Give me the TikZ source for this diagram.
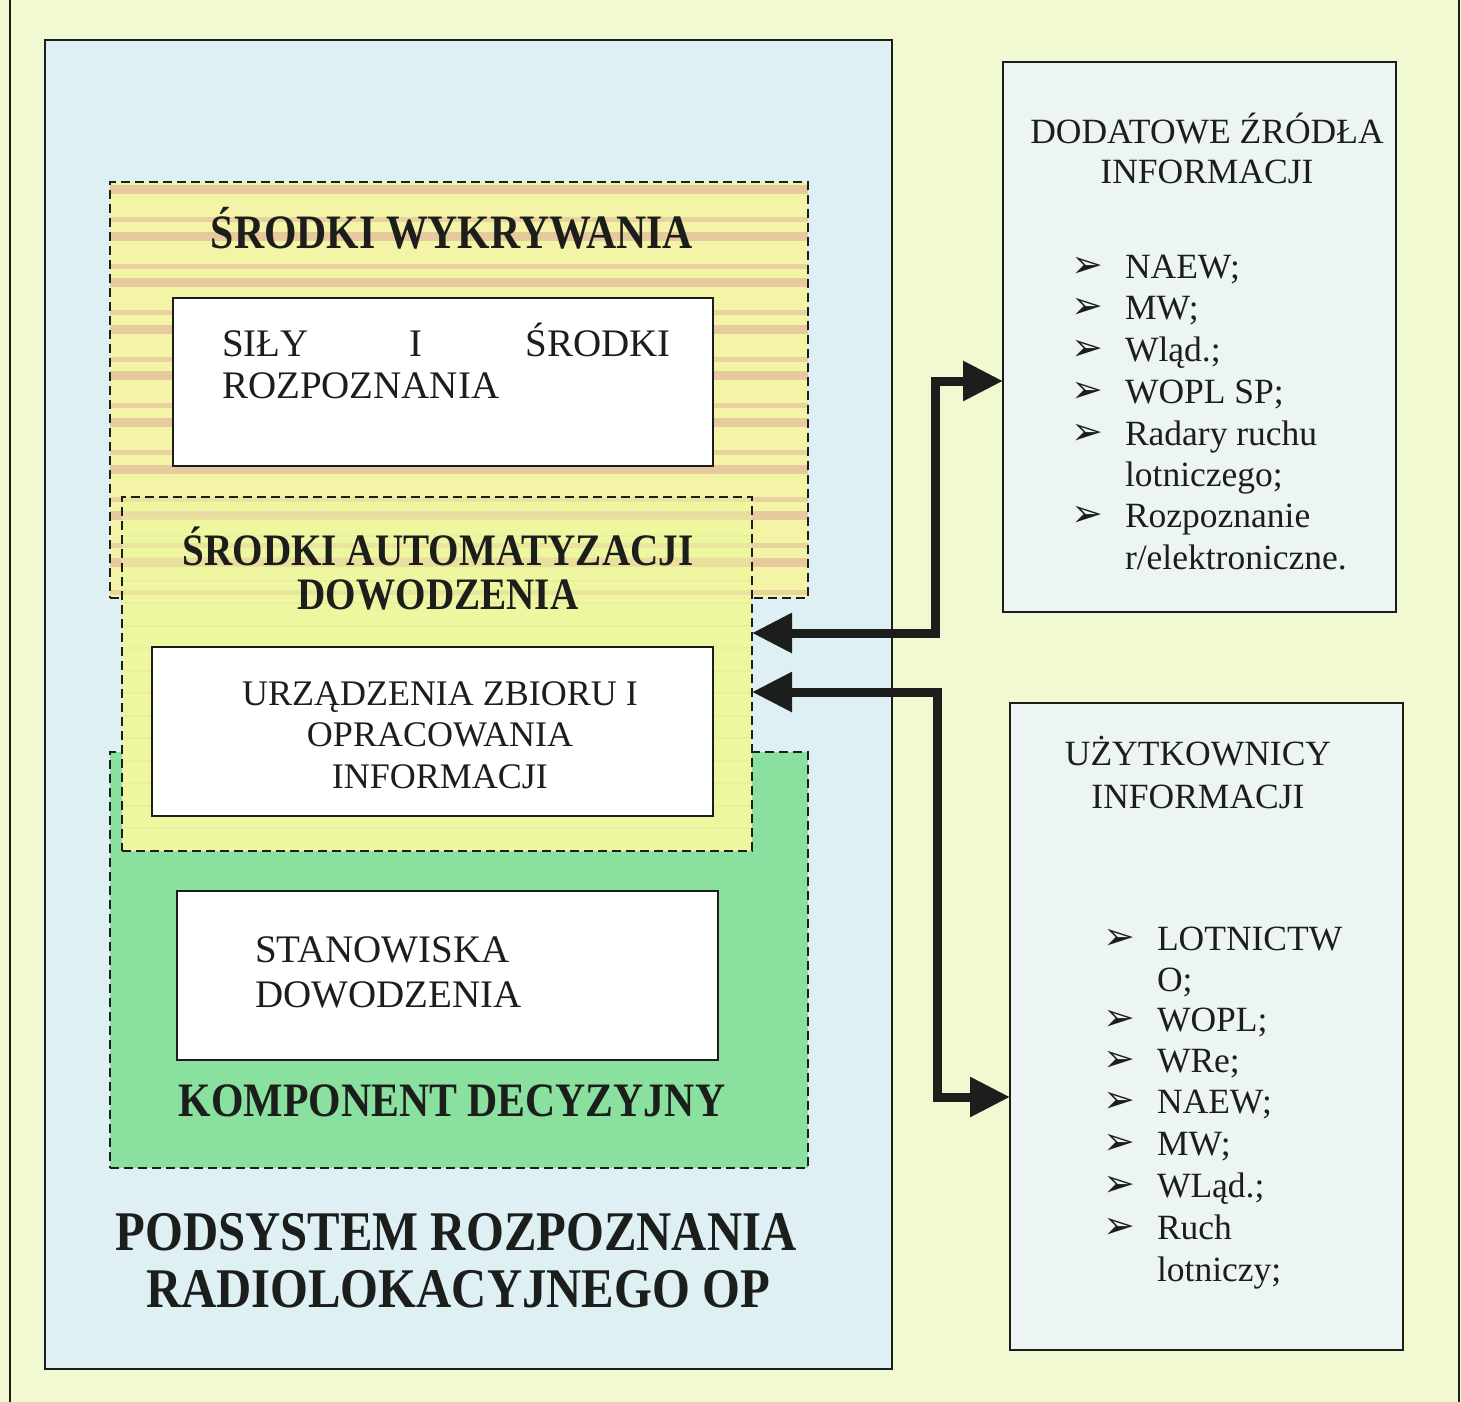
\documentclass[tikz,border=0pt]{standalone}
\usepackage{fontspec}
\setmainfont{Liberation Serif}
\newfontfamily\headfont{Liberation Serif}[FakeStretch=0.87]
\newfontfamily\bulletfont{DejaVu Sans}
\usetikzlibrary{arrows.meta,calc}

\definecolor{pagebg}{RGB}{241,249,210}
\definecolor{subsysblue}{RGB}{222,240,244}
\definecolor{sidebox}{RGB}{236,245,243}
\definecolor{detectyellow}{RGB}{243,244,166}
\definecolor{autoyellow}{RGB}{239,246,160}
\definecolor{stripetan}{RGB}{230,202,158}
\definecolor{decisiongreen}{RGB}{138,224,158}
\definecolor{ink}{RGB}{28,30,28}

\tikzset{
  frame/.style={inner sep=0pt, outer sep=0pt, anchor=north west},
  mainbox/.style={frame, draw=ink, line width=2pt, fill=subsysblue},
  dashbox/.style={frame, draw=ink, line width=2.8pt, dash pattern=on 9pt off 5pt},
  whitebox/.style={frame, draw=ink, line width=2.6pt, fill=white},
  infobox/.style={frame, draw=ink, line width=2.4pt, fill=sidebox},
  txt/.style={inner sep=0pt, outer sep=0pt, anchor=base west, text=ink},
  ctxt/.style={inner sep=0pt, outer sep=0pt, anchor=base, text=ink},
  bigbold/.style={font=\headfont\bfseries\fontsize{48}{50}\selectfont},
  plain/.style={font=\fontsize{39}{42}\selectfont},
  side/.style={font=\fontsize{35.5}{40}\selectfont},
  bul/.style={inner sep=0pt, outer sep=0pt, anchor=base west, text=ink,
              font=\bulletfont\fontsize{38}{40}\selectfont},
  link/.style={line width=9pt, draw=ink, line join=miter,
               {Triangle[length=40pt,width=38pt]}-{Triangle[length=40pt,width=38pt]}}
}

\begin{document}
\begin{tikzpicture}[x=1pt,y=-1pt]
\useasboundingbox (0,0) rectangle (1461,1402);
\fill[pagebg] (0,0) rectangle (1461,1402);
\draw[ink, line width=2pt] (10,0) -- (10,1402);
\draw[ink, line width=2pt] (1459,0) -- (1459,1402);

% subsystem frame
\node[mainbox, minimum width=847pt, minimum height=1329pt] (sub) at (45,40) {};

% detection layer: yellow with tan stripes
\node[frame, fill=detectyellow, minimum width=698pt, minimum height=416pt] (det) at (110,182) {};
\begin{scope}
  \clip (det.south west) rectangle (det.north east);
  \foreach \k in {0,...,8} {
    \fill[stripetan] (110,{185+46.6*\k}) rectangle (808,{194+46.6*\k});
    \fill[stripetan!80!detectyellow] (110,{217+46.6*\k}) rectangle (808,{222+46.6*\k});
  }
\end{scope}
\node[dashbox, minimum width=698pt, minimum height=416pt] (detb) at (110,182) {};

% decision layer
\node[dashbox, fill=decisiongreen, minimum width=698pt, minimum height=416pt] (dec) at (110,752) {};

% command automation layer
\node[frame, fill=autoyellow, minimum width=630pt, minimum height=354pt] (aut) at (122,497) {};
\begin{scope}
  \clip (aut.south west) rectangle (aut.north east);
  \foreach \k in {0,...,15} {
    \fill[autoyellow!85!gray, opacity=0.35] (122,{512+22.5*\k}) rectangle (752,{514+22.5*\k});
  }
  \foreach \k in {7,8} {
    \fill[stripetan, opacity=0.5] (122,{185+46.6*\k}) rectangle (752,{194+46.6*\k});
  }
  \foreach \k in {6,7,8} {
    \fill[stripetan, opacity=0.4] (122,{217+46.6*\k}) rectangle (752,{222+46.6*\k});
  }
\end{scope}
\node[dashbox, minimum width=630pt, minimum height=354pt] (autb) at (122,497) {};

% inner white boxes
\node[whitebox, minimum width=540pt, minimum height=168pt] (sily) at (173,298) {};
\node[whitebox, minimum width=561pt, minimum height=169pt] (urz) at (152,647) {};
\node[whitebox, minimum width=541pt, minimum height=169pt] (stan) at (177,891) {};

% headings
\node[ctxt, bigbold] (detT) at (452,248) {ŚRODKI WYKRYWANIA};
\node[ctxt, bigbold, font=\headfont\bfseries\fontsize{45}{47}\selectfont] (autT1) at (438,565) {ŚRODKI AUTOMATYZACJI};
\node[ctxt, bigbold, font=\headfont\bfseries\fontsize{45}{47}\selectfont] (autT2) at (438,609) {DOWODZENIA};
\node[ctxt, bigbold] (decT) at (452,1116) {KOMPONENT DECYZYJNY};
\node[ctxt, font=\headfont\bfseries\fontsize{56}{58}\selectfont] (subT1) at (456,1250) {PODSYSTEM ROZPOZNANIA};
\node[ctxt, font=\headfont\bfseries\fontsize{56}{58}\selectfont] (subT2) at (458,1307) {RADIOLOKACYJNEGO OP};

% box texts
\node[txt, plain] (silyA) at (222,356) {SIŁY};
\node[ctxt, plain] (silyB) at (416,356) {I};
\node[txt, plain, anchor=base east] (silyC) at (671,356) {ŚRODKI};
\node[txt, plain] (silyD) at (222,398) {ROZPOZNANIA};

\node[ctxt, font=\fontsize{36}{40}\selectfont] (urzA) at (440,705) {URZĄDZENIA ZBIORU I};
\node[ctxt, font=\fontsize{36}{40}\selectfont] (urzB) at (440,746) {OPRACOWANIA};
\node[ctxt, font=\fontsize{36}{40}\selectfont] (urzC) at (440,788) {INFORMACJI};

\node[txt, plain] (stanA) at (255,962) {STANOWISKA};
\node[txt, plain] (stanB) at (255,1007) {DOWODZENIA};

% additional sources
\node[infobox, minimum width=393pt, minimum height=550pt] (src) at (1003,62) {};
\node[ctxt, side] (srcT1) at (1207,143) {DODATOWE ŹRÓDŁA};
\node[ctxt, side] (srcT2) at (1207,183) {INFORMACJI};
\foreach \y/\t/\b [count=\i] in {278/NAEW;/1, 319/MW;/1, 361/Wląd.;/1, 403/WOPL SP;/1,
    445/Radary ruchu/1, 486/lotniczego;/0, 527/Rozpoznanie/1, 569/{r/elektroniczne.}/0} {
  \node[txt, side] (srcI\i) at (1125,\y) {\t};
  \ifnum\b=1 \node[bul] (srcB\i) at (1071,\y-1) {➢}; \fi
}

% information users
\node[infobox, minimum width=393pt, minimum height=647pt] (usr) at (1010,703) {};
\node[ctxt, side] (usrT1) at (1198,765) {UŻYTKOWNICY};
\node[ctxt, side] (usrT2) at (1198,808) {INFORMACJI};
\foreach \y/\t/\b [count=\i] in {950/LOTNICTW/1, 991/O;/0, 1031/WOPL;/1, 1072/WRe;/1,
    1113/NAEW;/1, 1155/MW;/1, 1197/WLąd.;/1, 1239/Ruch/1, 1281/lotniczy;/0} {
  \node[txt, side] (usrI\i) at (1157,\y) {\t};
  \ifnum\b=1 \node[bul] (usrB\i) at (1103,\y-1) {➢}; \fi
}

% connectors
\coordinate (r1) at (0,633);
\coordinate (r2) at (0,692);
\coordinate (s1) at (0,381);
\coordinate (s2) at (0,1097);
\draw[link] (aut.east |- r1) -- (935,633) |- (src.west |- s1);
\draw[link] (aut.east |- r2) -- (937,692) |- (usr.west |- s2);
\end{tikzpicture}
\end{document}
